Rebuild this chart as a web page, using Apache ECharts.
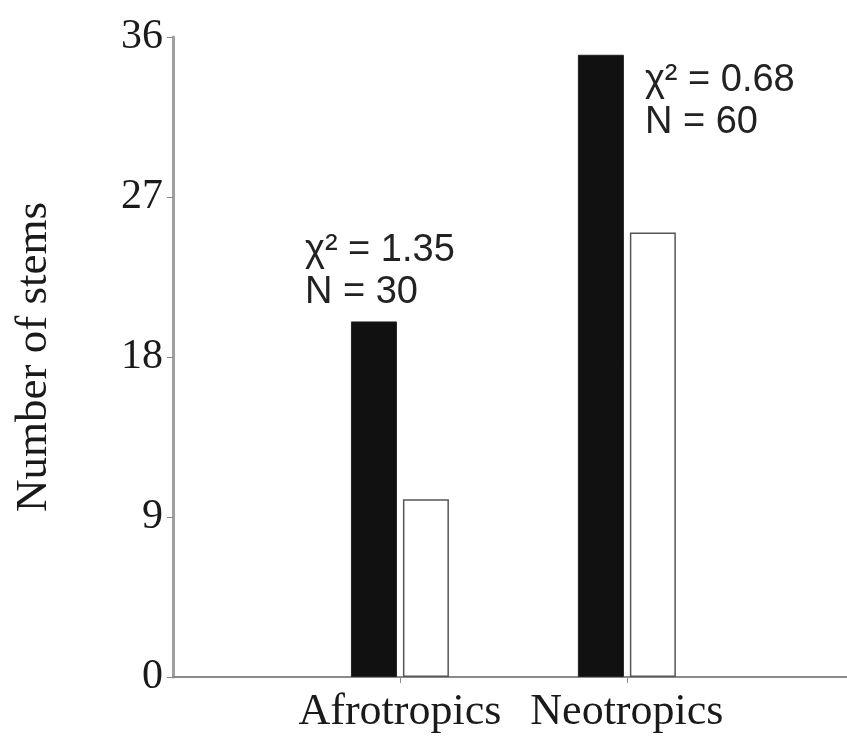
<!DOCTYPE html>
<html>
<head>
<meta charset="utf-8">
<script src="https://cdn.jsdelivr.net/npm/echarts@6/dist/echarts.min.js"></script>
<style>
html,body{margin:0;padding:0;background:#fff;}
#chart{width:847px;height:744px;}
</style>
</head>
<body>
<div id="chart"></div>
<script>
var categories = ['Afrotropics', 'Neotropics'];
var categoryPositions = [1, 2];
var blackValues = [20, 35];
var whiteValues = [10, 25];
var annotations = ['χ² = 1.35\nN = 30', 'χ² = 0.68\nN = 60'];
var yTicks = [0, 9, 18, 27, 36];

var labelPlacements = [
  {position: [-46, -92]},
  {position: [67, 5]}
];

var blackData = blackValues.map(function (v, i) {
  return {
    value: [categoryPositions[i], v],
    label: {
      show: true,
      position: labelPlacements[i].position,
      align: 'left',
      verticalAlign: 'top',
      formatter: annotations[i],
      fontFamily: '"Liberation Sans", Arial, sans-serif',
      fontSize: 38,
      lineHeight: 42,
      color: '#222'
    }
  };
});
var whiteData = whiteValues.map(function (v, i) {
  return [categoryPositions[i], v];
});

var chart = echarts.init(document.getElementById('chart'));
chart.setOption({
  animation: false,
  grid: {left: 173, right: 0, top: 37, bottom: 67, containLabel: false},
  xAxis: {
    type: 'value',
    min: 0,
    max: 2.97,
    interval: 1,
    splitLine: {show: false},
    axisLine: {show: true, lineStyle: {color: '#8a8a8a', width: 2}},
    axisTick: {show: true, length: 6, customValues: categoryPositions, lineStyle: {color: '#8a8a8a', width: 1}},
    axisLabel: {
      customValues: categoryPositions,
      margin: 13,
      fontFamily: '"Liberation Serif", "Times New Roman", serif',
      fontSize: 44,
      color: '#1a1a1a',
      formatter: function (v) {
        var idx = categoryPositions.indexOf(Math.round(v));
        return idx >= 0 ? categories[idx] : '';
      }
    }
  },
  yAxis: {
    type: 'value',
    min: 0,
    max: 36,
    interval: 9,
    name: 'Number of stems',
    nameLocation: 'middle',
    nameGap: 116,
    nameTextStyle: {
      fontFamily: '"Liberation Serif", "Times New Roman", serif',
      fontSize: 45,
      color: '#1a1a1a'
    },
    splitLine: {show: false},
    axisLine: {show: true, lineStyle: {color: '#a0a0a0', width: 3}},
    axisTick: {show: true, length: 6, lineStyle: {color: '#8a8a8a', width: 1}},
    axisLabel: {
      margin: 10,
      fontFamily: '"Liberation Serif", "Times New Roman", serif',
      fontSize: 42,
      color: '#1a1a1a',
      customValues: yTicks
    }
  },
  series: [
    {
      type: 'bar',
      data: blackData,
      barWidth: 46,
      barGap: '13%',
      itemStyle: {color: '#111', borderColor: '#222', borderWidth: 1}
    },
    {
      type: 'bar',
      data: whiteData,
      barWidth: 46,
      itemStyle: {color: '#fff', borderColor: '#555', borderWidth: 1.5}
    }
  ]
});
</script>
</body>
</html>
